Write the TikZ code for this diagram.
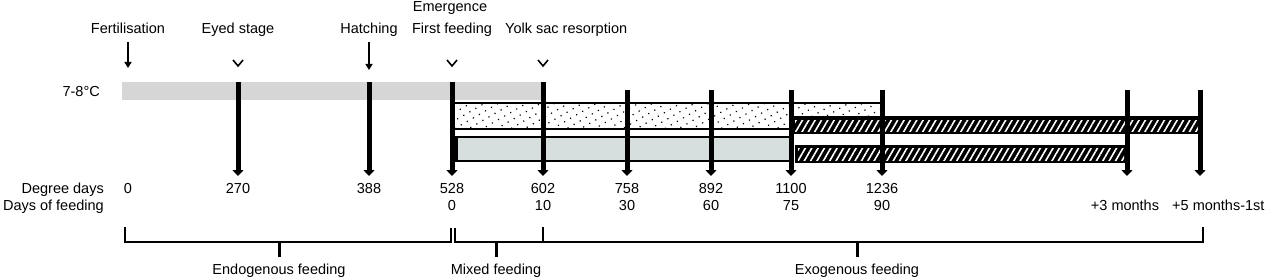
\documentclass[tikz,border=0pt]{standalone}
\usepackage{fontspec}
\setmainfont{Liberation Sans}
\usetikzlibrary{arrows.meta,patterns.meta}
\definecolor{stip}{RGB}{214,214,214}
\definecolor{chk}{RGB}{214,222,222}
\begin{document}
\begin{tikzpicture}[x=1pt,y=-1pt,
  lbl/.style={font=\fontsize{14.5}{17}\selectfont, inner sep=0pt, anchor=base},
  stem/.style={line width=5pt, -{Triangle[length=6pt,width=11pt]}},
  brk/.style={line width=2pt},
  ctick/.style={line width=3pt},
  vee/.style={line width=1.6pt},
  ptr/.style={line width=1.3pt, -{Triangle[length=6pt,width=7pt]}},
  frame/.style={draw=black, line width=1.6pt},
  dotbar/.style={pattern={Dots[distance=7pt,radius=0.85pt,angle=30]}, pattern color=black},
  hatchbar/.style={pattern={Lines[distance=5.5pt,angle=60,line width=1.6pt]}, pattern color=white}]
\useasboundingbox (0,0) rectangle (1282,278);

% ---- bars ----
\fill[stip] (122,82) rectangle (543,100);
\filldraw[frame, fill=white] (452,103) rectangle (791,129);
\fill[dotbar] (452,103) rectangle (791,129);
\filldraw[frame, fill=white] (791,103) rectangle (882,117);
\fill[dotbar] (791,103) rectangle (882,117);
\fill[black] (791,116) rectangle (1200,134);
\fill[hatchbar] (795,120) rectangle (1198,131);
\filldraw[frame, fill=chk] (452,137) rectangle (791,161);
\fill[black] (452,137) rectangle (458,161);
\fill[black] (795,145) rectangle (1127,163);
\fill[hatchbar] (798,148) rectangle (1124,160);

% ---- stems ----
\foreach \n/\x/\t in {a/238/82, b/369/82, c/452/82, d/543/82, e/627/90, f/711/90, g/791/90, h/882/90, i/1127/90, j/1200/90}{
  \coordinate (\n t) at (\x,\t);
  \coordinate (\n b) at (\x,176);
  \draw[stem] (\n t) -- (\n b);
}

% ---- top events ----
\node[lbl] (fert) at (128,34) {Fertilisation};
\node[lbl] (eyed) at (238,34) {Eyed stage};
\node[lbl] (hatch) at (369,34) {Hatching};
\node[lbl] (emer) at (450,12) {Emergence};
\node[lbl] (ffeed) at (452,34) {First feeding};
\node[lbl, anchor=base west] (yolk) at (505,34) {Yolk sac resorption};

\coordinate (p1a) at (128,42); \coordinate (p1b) at (128,68);
\draw[ptr] (p1a) -- (p1b);
\coordinate (p2a) at (369,42); \coordinate (p2b) at (369,70);
\draw[ptr] (p2a) -- (p2b);
\foreach \n/\x in {va/238, vb/452, vc/543}{
  \coordinate (\n l) at (\x-5,60);
  \coordinate (\n m) at (\x,66);
  \coordinate (\n r) at (\x+5,60);
  \draw[vee] (\n l) -- (\n m) -- (\n r);
}

\node[lbl, anchor=base east] (temp) at (100,96) {7-8°C};

% ---- scales ----
\node[lbl, anchor=base east] (dd) at (104,193) {Degree days};
\node[lbl, anchor=base east] (df) at (104,210) {Days of feeding};
\foreach \n/\x/\v in {d0/128/0, d1/238/270, d2/369/388, d3/452/528, d4/543/602, d5/627/758, d6/711/892, d7/791/1100, d8/882/1236}{
  \node[lbl] (\n) at (\x,193) {\v};
}
\foreach \n/\x/\v in {f0/452/0, f1/543/10, f2/627/30, f3/711/60, f4/791/75, f5/882/90, f6/1125/+3 months}{
  \node[lbl] (\n) at (\x,210) {\v};
}
\node[lbl, anchor=base west] (f7) at (1172,210) {+5 months-1st};

% ---- brackets ----
\coordinate (b1a) at (125,227); \coordinate (b1b) at (125,242);
\coordinate (b1c) at (451,242); \coordinate (b1d) at (451,228);
\draw[brk] (b1a) -- (b1b) -- (b1c) -- (b1d);
\coordinate (c1a) at (279,242); \coordinate (c1b) at (279,257);
\draw[ctick] (c1a) -- (c1b);
\coordinate (b2a) at (455,228); \coordinate (b2b) at (455,242);
\coordinate (b2c) at (543,242); \coordinate (b2d) at (543,227);
\draw[brk] (b2a) -- (b2b) -- (b2c) -- (b2d);
\coordinate (c2a) at (496,242); \coordinate (c2b) at (496,257);
\draw[ctick] (c2a) -- (c2b);
\coordinate (b3a) at (543,242); \coordinate (b3b) at (1203,242);
\coordinate (b3c) at (1203,227);
\draw[brk] (b3a) -- (b3b) -- (b3c);
\coordinate (c3a) at (857,242); \coordinate (c3b) at (857,257);
\draw[ctick] (c3a) -- (c3b);

\node[lbl] (endo) at (279,274) {Endogenous feeding};
\node[lbl] (mixed) at (496,274) {Mixed feeding};
\node[lbl] (exo) at (857,274) {Exogenous feeding};
\end{tikzpicture}
\end{document}
